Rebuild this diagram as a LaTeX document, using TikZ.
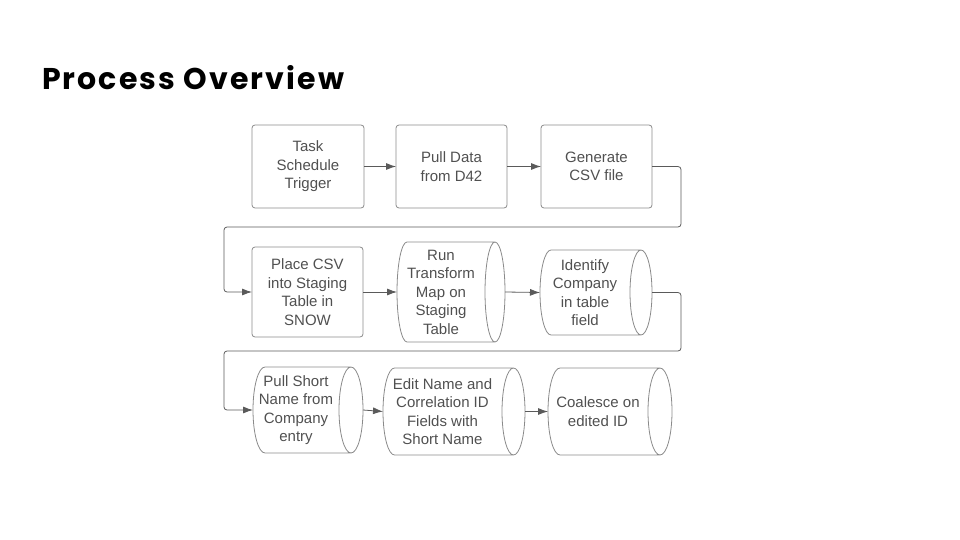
\documentclass[tikz,border=0pt]{standalone}
\usepackage{fontspec}
\setmainfont{Liberation Sans}
\newfontfamily\titlefont[LetterSpace=7]{Poppins}
\usetikzlibrary{calc,arrows.meta}
\definecolor{txt}{HTML}{505050}
\definecolor{edge}{HTML}{8A8A8A}
\definecolor{wire}{HTML}{5A5A5A}
\newcommand\drumline[2]{%
  \draw[drumedge] let \p1=(#1.north west), \p2=(#1.south east), \n1={(\y1-\y2)/2} in
    (\x1+#2pt,\y1) -- (\x2+#2pt,\y1)
    arc[start angle=90,end angle=-90,x radius=#2pt,y radius=\n1]
    -- (\x1+#2pt,\y2)
    arc[start angle=270,end angle=90,x radius=#2pt,y radius=\n1]
    (\x2+#2pt,\y1) arc[start angle=90,end angle=270,x radius=#2pt,y radius=\n1];}
\begin{document}
\begin{tikzpicture}[x=1pt,y=-1pt,
  every node/.style={inner sep=0pt,outer sep=0pt},
  procbox/.style={draw=edge,line width=0.8pt,rounded corners=3pt,align=center,
    font=\fontsize{15}{18.5}\selectfont,text=txt},
  drum/.style={rectangle,align=center,font=\fontsize{15}{18.5}\selectfont,text=txt},
  drumedge/.style={draw=edge,line width=0.8pt},
  flow/.style={draw=wire,line width=0.8pt,-{Latex[length=10pt,width=7pt]}}]
\useasboundingbox (0,0) rectangle (960,540);
\node[anchor=base west,font=\titlefont\bfseries\fontsize{30}{36}\selectfont] (title) at (42,90) {Process Overview};
% row 1
\node[procbox,minimum width=112pt,minimum height=83pt] (t1) at (308,166.5) {Task\\Schedule\\Trigger};
\node[procbox,minimum width=111pt,minimum height=83pt] (t2) at (451.5,166.5) {Pull Data\\from D42};
\node[procbox,minimum width=111pt,minimum height=83pt] (t3) at (596.5,166.5) {Generate\\CSV file};
% row 2
\node[procbox,minimum width=111pt,minimum height=90pt] (t4) at (307.5,292) {Place CSV\\into Staging\\Table in\\SNOW};
\node[drum,minimum width=88pt,minimum height=100pt] (t5) at (441,292) {Run\\Transform\\Map on\\Staging\\Table};
\node[drum,minimum width=90pt,minimum height=85pt] (t6) at (585,292.5) {Identify\\Company\\in table\\field};
% row 3
\node[drum,minimum width=86pt,minimum height=86pt] (t7) at (296,410) {Pull Short\\Name from\\Company\\entry};
\node[drum,minimum width=119pt,minimum height=87pt] (t8) at (442.5,411.5) {Edit Name and\\Correlation ID\\Fields with\\Short Name};
\node[drum,minimum width=100pt,minimum height=87pt] (t9) at (598,411.5) {Coalesce on\\edited ID};
\drumline{t5}{10}
\drumline{t6}{11}
\drumline{t7}{12}
\drumline{t8}{11.5}
\drumline{t9}{12}
\coordinate (c1) at (681,227);
\coordinate (c2) at (224,227);
\coordinate (c3) at (681,351);
\coordinate (c4) at (224,351);
\draw[flow] (t1) -- (t2);
\draw[flow] (t2) -- (t3);
\draw[flow,rounded corners=3pt] (t3.east) -| (c1) -- (c2) |- (t4.west);
\draw[flow] (t4) -- (t5);
\draw[flow] ([xshift=20pt]t5.east) -- (t6.west);
\draw[flow,rounded corners=3pt] ([xshift=22pt]t6.east) -| (c3) -- (c4) |- (t7.west);
\draw[flow] ([xshift=24pt]t7.east) -- (t8.west);
\draw[flow] ([xshift=23pt]t8.east) -- (t9.west);
\end{tikzpicture}
\end{document}
